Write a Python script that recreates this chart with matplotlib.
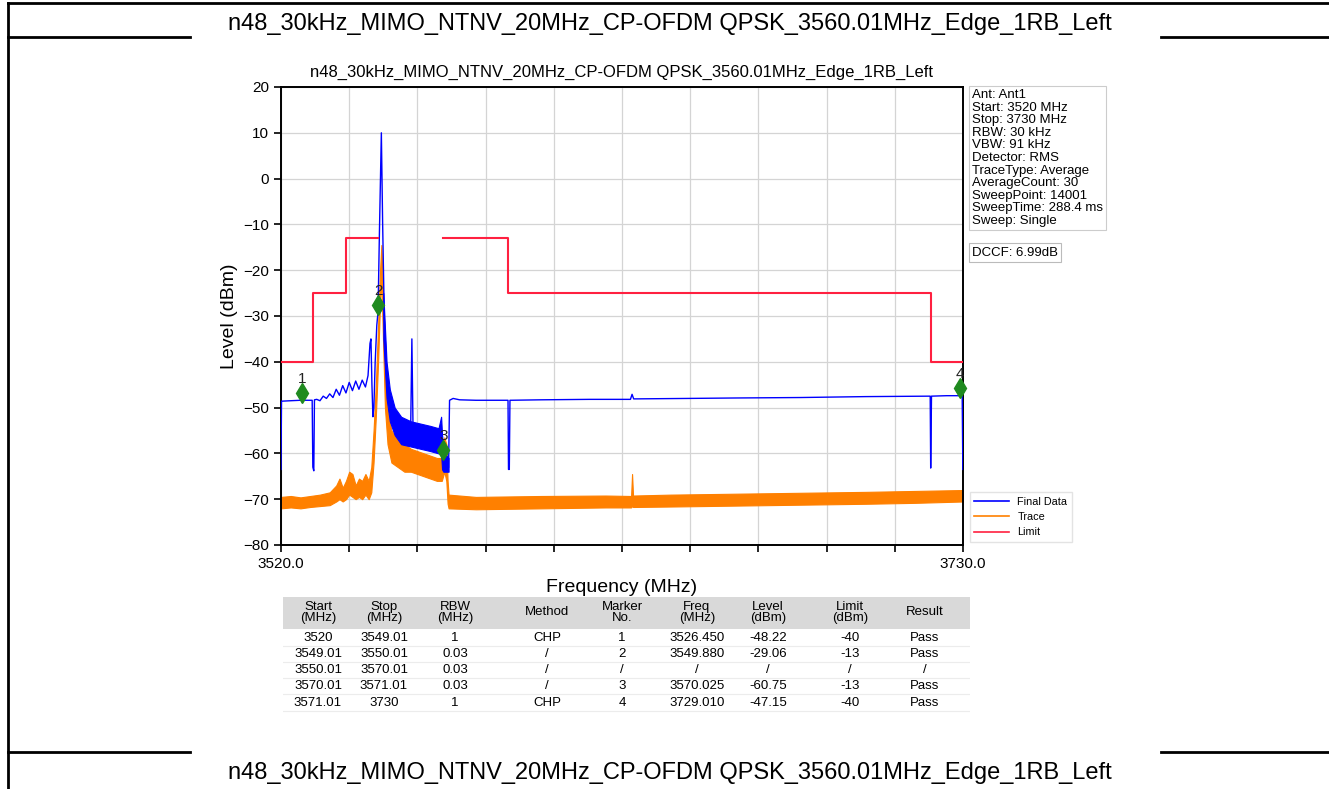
import matplotlib
matplotlib.use('Agg')
import matplotlib.pyplot as plt
from matplotlib.lines import Line2D
from matplotlib.patches import Rectangle
import matplotlib.transforms as mtransforms
from matplotlib import font_manager

plt.rcParams['font.family'] = ['Liberation Sans', 'DejaVu Sans']

_names = {f.name for f in font_manager.fontManager.ttflist}
if 'Liberation Sans Narrow' in _names:
    TABLE_FONT, TABLE_SIZE = ['Liberation Sans Narrow', 'Liberation Sans'], 10.5
else:
    TABLE_FONT, TABLE_SIZE = ['Liberation Sans', 'DejaVu Sans'], 9.5

TITLE = "n48_30kHz_MIMO_NTNV_20MHz_CP-OFDM QPSK_3560.01MHz_Edge_1RB_Left"

# ---------------- data ----------------
# Final Data (blue) - left part incl. carrier peak
blue_left_f = [3520.0, 3520.15, 3523.0, 3526.0, 3529.6, 3529.8, 3530.1, 3530.3, 3531.0, 3532.0,
               3533.0, 3534.0, 3535.0, 3536.0, 3537.0, 3538.0, 3539.0, 3540.0, 3541.0, 3542.0,
               3543.0, 3544.0, 3545.0, 3546.0, 3546.8, 3547.4, 3547.7, 3548.0, 3548.3, 3548.6,
               3549.0, 3549.5, 3549.88, 3550.3, 3550.9, 3551.3, 3551.8, 3552.5, 3553.0]
blue_left_v = [-63.5, -48.6, -48.5, -48.4, -48.4, -63.0, -63.8, -48.3, -48.2, -48.5,
               -47.5, -48.0, -47.0, -47.8, -46.0, -47.3, -45.2, -46.8, -44.5, -46.3,
               -44.2, -46.0, -44.0, -45.5, -43.0, -36.0, -35.0, -45.0, -52.0, -50.0,
               -40.0, -32.0, -29.06, -12.0, 10.0, -10.0, -30.0, -42.0, -48.0]
# Final Data - noisy band between carrier and 3571 MHz
blue_band_f = [3551.5, 3552.5, 3553.5, 3555.0, 3557.0, 3560.0, 3563.0, 3566.0, 3568.5, 3569.3,
               3569.6, 3570.0, 3570.5, 3571.0, 3571.6]
blue_band_hi = [-25.0, -40.0, -46.0, -50.0, -52.0, -53.0, -53.5, -54.0, -54.5, -52.0,
                -56.0, -59.0, -60.0, -60.5, -61.0]
blue_band_lo = [-35.0, -48.0, -53.0, -56.0, -58.0, -58.5, -59.0, -59.5, -60.0, -60.0,
                -63.5, -64.0, -64.0, -64.0, -64.0]
blue_spike_f = [3559.9, 3560.3, 3560.7]
blue_spike_v = [-56.0, -35.0, -57.0]
# Final Data - right part
blue_right_f = [3571.6, 3571.9, 3573.0, 3575.0, 3580.0, 3589.9, 3590.05, 3590.3, 3590.5, 3600.0,
                3615.0, 3627.6, 3628.1, 3628.6, 3645.0, 3660.0, 3680.0, 3700.0, 3719.9, 3720.05,
                3720.3, 3725.0, 3729.75, 3729.95]
blue_right_v = [-63.0, -48.4, -48.0, -48.3, -48.4, -48.4, -63.5, -63.5, -48.4, -48.3,
                -48.2, -48.2, -47.1, -48.1, -48.0, -47.9, -47.8, -47.6, -47.5, -63.2,
                -47.5, -47.4, -47.4, -63.5]

# Trace (orange) - noise band envelope
orange_f = [3520, 3523, 3526, 3529, 3532, 3535, 3537, 3538, 3539, 3540, 3541, 3542, 3543, 3544,
            3545, 3546, 3547, 3547.8, 3548.5, 3549.2, 3549.9, 3550.5, 3550.9, 3551.4, 3552,
            3552.8, 3554, 3556, 3558, 3560, 3562, 3564, 3566, 3568, 3569.5, 3570.3, 3570.9,
            3571.3, 3571.6, 3580, 3600, 3620, 3627.8, 3628.1, 3628.4, 3640, 3660, 3680, 3700,
            3715, 3730]
orange_hi = [-69.5, -69.3, -69.6, -69.3, -69.0, -68.5, -67.0, -65.5, -67.5, -66.0, -64.0, -64.5,
             -67.0, -65.5, -66.0, -64.5, -66.0, -63.0, -55.0, -45.0, -32.0, -20.0, -14.5, -25.0,
             -40.0, -50.0, -55.0, -57.0, -58.0, -59.0, -59.5, -60.0, -60.5, -61.0, -61.0, -56.5,
             -58.0, -66.0, -69.0, -69.5, -69.3, -69.2, -69.3, -64.5, -69.2, -69.0, -68.8, -68.6,
             -68.4, -68.2, -68.0]
orange_lo = [-72.0, -71.8, -72.0, -71.7, -71.5, -71.3, -70.5, -70.0, -70.5, -70.0, -69.0, -69.5,
             -70.0, -69.5, -70.0, -69.0, -70.0, -68.5, -62.0, -52.0, -40.0, -27.0, -22.0, -35.0,
             -50.0, -58.0, -62.0, -63.0, -64.0, -64.0, -64.5, -65.0, -65.5, -66.0, -66.0, -64.0,
             -66.0, -71.0, -72.0, -72.2, -72.0, -71.8, -71.8, -71.5, -71.7, -71.6, -71.4, -71.2,
             -71.0, -70.8, -70.5]

# Limit (red)
limit_left_f = [3520, 3530, 3530, 3540, 3540, 3550.01]
limit_left_v = [-40, -40, -25, -25, -13, -13]
limit_right_f = [3570.01, 3590, 3590, 3720, 3720, 3730]
limit_right_v = [-13, -13, -25, -25, -40, -40]

# Markers
marker_no = ['1', '2', '3', '4']
marker_f = [3526.45, 3549.88, 3570.025, 3729.01]
marker_v = [-48.22, -29.06, -60.75, -47.15]

x_ticks = [3520 + 21 * i for i in range(11)]
x_ticklabels = ['3520.0'] + [''] * 9 + ['3730.0']
y_ticks = [-80, -70, -60, -50, -40, -30, -20, -10, 0, 10, 20]

info_lines = ["Ant: Ant1", "Start: 3520 MHz", "Stop: 3730 MHz", "RBW: 30 kHz", "VBW: 91 kHz",
              "Detector: RMS", "TraceType: Average", "AverageCount: 30", "SweepPoint: 14001",
              "SweepTime: 288.4 ms", "Sweep: Single"]
dccf_text = "DCCF: 6.99dB"

table_header = ["Start\n(MHz)", "Stop\n(MHz)", "RBW\n(MHz)", "Method", "Marker\nNo.",
                "Freq\n(MHz)", "Level\n(dBm)", "Limit\n(dBm)", "Result"]
table_rows = [
    ["3520", "3549.01", "1", "CHP", "1", "3526.450", "-48.22", "-40", "Pass"],
    ["3549.01", "3550.01", "0.03", "/", "2", "3549.880", "-29.06", "-13", "Pass"],
    ["3550.01", "3570.01", "0.03", "/", "/", "/", "/", "/", "/"],
    ["3570.01", "3571.01", "0.03", "/", "3", "3570.025", "-60.75", "-13", "Pass"],
    ["3571.01", "3730", "1", "CHP", "4", "3729.010", "-47.15", "-40", "Pass"],
]

# ---------------- figure ----------------
W, H = 1329, 789
fig = plt.figure(figsize=(W / 100, H / 100), dpi=100)
fig.patch.set_facecolor('white')


def fx(x):
    return x / W


def fy(y):
    return 1 - y / H


# outer document frame
for (x0, y0, x1, y1) in [(8, 3, W, 3), (8, 37, 190, 37), (1161, 37, W, 37),
                         (8, 752, 190, 752), (1161, 752, W, 752), (8, 3, 8, H)]:
    fig.add_artist(Line2D([fx(x0), fx(x1)], [fy(y0), fy(y1)], color='black', lw=2.0,
                          transform=fig.transFigure))
fig.text(fx(670), fy(24), TITLE, ha='center', va='center', fontsize=17)
fig.text(fx(670), fy(773), TITLE, ha='center', va='center', fontsize=17)

# main axes
ax = fig.add_axes([fx(281), fy(545), (963 - 281) / W, (545 - 87) / H])
ax.fill_between(orange_f, orange_lo, orange_hi, color='#ff8000', lw=0.8, zorder=2)
ax.plot(blue_left_f, blue_left_v, color='#0000ff', lw=1.0, zorder=3, label='Final Data')
ax.fill_between(blue_band_f, blue_band_lo, blue_band_hi, color='#0000ff', lw=0.8, zorder=3)
ax.plot(blue_spike_f, blue_spike_v, color='#0000ff', lw=1.0, zorder=3)
ax.plot(blue_right_f, blue_right_v, color='#0000ff', lw=1.0, zorder=3)
ax.plot(limit_left_f, limit_left_v, color='#ff2040', lw=1.5, zorder=4)
ax.plot(limit_right_f, limit_right_v, color='#ff2040', lw=1.5, zorder=4)

off_d = mtransforms.offset_copy(ax.transData, fig=fig, x=0, y=5, units='points')
off_t = mtransforms.offset_copy(ax.transData, fig=fig, x=0, y=15, units='points')
ax.plot(marker_f, marker_v, linestyle='none', marker='d', ms=10, color='#1f8a1f',
        transform=off_d, zorder=6, clip_on=False)
for n, f, v in zip(marker_no, marker_f, marker_v):
    ax.text(f, v, n, transform=off_t, ha='center', va='center', fontsize=11, zorder=7,
            color='#222222')

ax.set_xlim(3520, 3730)
ax.set_ylim(-80, 20)
ax.set_xticks(x_ticks)
ax.set_xticklabels(x_ticklabels)
ax.set_yticks(y_ticks)
ax.tick_params(axis='both', labelsize=11, length=5, width=1.2, direction='out')
ax.grid(True, color='#d4d4d4', lw=0.9)
ax.set_axisbelow(True)
for s in ax.spines.values():
    s.set_linewidth(1.4)
ax.set_xlabel('Frequency (MHz)', fontsize=14, labelpad=6)
ax.set_ylabel('Level (dBm)', fontsize=14, labelpad=4)
ax.set_title(TITLE, fontsize=12, pad=7)

handles = [Line2D([], [], color='#0000ff', lw=1.2), Line2D([], [], color='#ff8000', lw=1.2),
           Line2D([], [], color='#ff2040', lw=1.2)]
ax.legend(handles, ['Final Data', 'Trace', 'Limit'], loc='lower left',
          bbox_to_anchor=(1.005, 0.0), fontsize=7.8, frameon=True, edgecolor='#dddddd',
          fancybox=False, handlelength=3.2, borderaxespad=0.3)

ax.text(1.013, 0.995, "\n".join(info_lines), transform=ax.transAxes, ha='left', va='top',
        fontsize=9.5, linespacing=1.06,
        bbox=dict(boxstyle='square,pad=0.25', fc='white', ec='#cccccc', lw=0.8))
ax.text(1.013, 0.638, dccf_text, transform=ax.transAxes, ha='left', va='center',
        fontsize=9.5, bbox=dict(boxstyle='square,pad=0.25', fc='white', ec='#bbbbbb', lw=0.8))

# result table
tax = fig.add_axes([fx(283), fy(714), (970 - 283) / W, (714 - 597) / H])
tax.set_xlim(283, 970)
tax.set_ylim(714, 597)
tax.axis('off')
tax.add_patch(Rectangle((283, 597), 687, 32, color='#d9d9d9', lw=0))
col_x = [318, 384, 455, 547, 622, 697, 768, 850, 925]
row_y = [638, 654, 670, 686, 703]
for cx, h in zip(col_x, table_header):
    tax.text(cx, 612.5, h, ha='center', va='center', fontsize=TABLE_SIZE, linespacing=0.92,
             family=TABLE_FONT)
for ry, row in zip(row_y, table_rows):
    for cx, val in zip(col_x, row):
        tax.text(cx, ry, val, ha='center', va='center', fontsize=TABLE_SIZE, family=TABLE_FONT)
for ry in [646, 662, 678, 694, 711]:
    tax.plot([283, 970], [ry, ry], color='#ececec', lw=0.8)

fig.savefig('out.png', dpi=100)
